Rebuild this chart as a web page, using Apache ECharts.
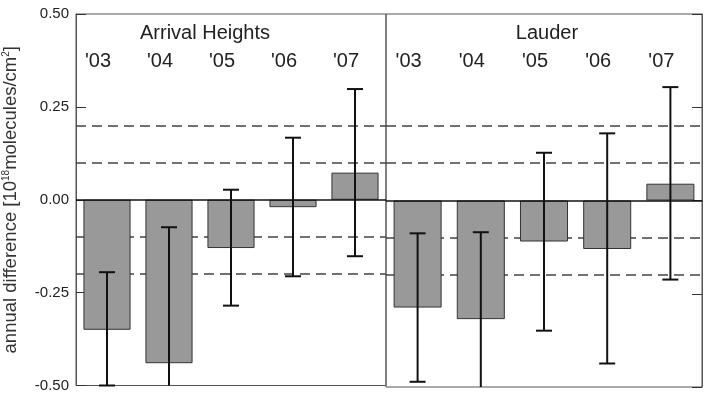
<!DOCTYPE html>
<html>
<head>
<meta charset="utf-8">
<script src="https://cdn.jsdelivr.net/npm/echarts@6/dist/echarts.min.js"></script>
<style>
  html, body { margin: 0; padding: 0; background: #fff; }
  #chart { width: 717px; height: 393px; }
</style>
</head>
<body>
<div id="chart"></div>
<script>
// years shown in each panel
const years = ["'03", "'04", "'05", "'06", "'07"]

// Arrival Heights: mean annual difference and error bar ends
const ahMean = [-0.35, -0.44, -0.13, -0.02, 0.073]
const ahHigh = [-0.195, -0.074, 0.027, 0.167, 0.298]
const ahLow = [-0.50, -0.81, -0.285, -0.206, -0.152]

// Lauder
const laMean = [-0.287, -0.318, -0.11, -0.13, 0.045]
const laHigh = [-0.088, -0.085, 0.128, 0.18, 0.304]
const laLow = [-0.486, -0.551, -0.349, -0.437, -0.212]

// y range, tick step and dashed reference levels
const yMin = -0.5
const yMax = 0.5
const yStep = 0.25
const refLines = [0.2, 0.1, -0.1, -0.2]

const font = '"Liberation Sans", Arial, Helvetica, sans-serif'

// error bar with caps, clipped to the y range
const errorBar = (params, api) => {
  const x = api.value(0)
  const lo = api.value(1)
  const hi = api.value(2)
  const top = api.coord([x, Math.min(hi, yMax)])
  const bot = api.coord([x, Math.max(lo, yMin)])
  const half = 8
  const style = { stroke: '#111', lineWidth: 2 }
  const children = [
    { type: 'line', shape: { x1: top[0], y1: top[1], x2: bot[0], y2: bot[1] }, style }
  ]
  if (hi <= yMax) {
    children.push({ type: 'line', shape: { x1: top[0] - half, y1: top[1], x2: top[0] + half, y2: top[1] }, style })
  }
  if (lo >= yMin) {
    children.push({ type: 'line', shape: { x1: bot[0] - half, y1: bot[1], x2: bot[0] + half, y2: bot[1] }, style })
  }
  return { type: 'group', children }
}

const makeX = (gridIndex) => ({
  type: 'category',
  gridIndex,
  position: 'top',
  data: years,
  axisLine: { show: false },
  axisTick: { show: false },
  axisLabel: {
    inside: true,
    margin: 37,
    fontSize: 20,
    fontFamily: font,
    color: '#222',
    padding: [0, 18, 0, 0]
  }
})

const makeY = (gridIndex, position, showLabels) => ({
  type: 'value',
  gridIndex,
  position,
  min: yMin,
  max: yMax,
  interval: yStep,
  splitLine: { show: false },
  axisLine: { show: true, lineStyle: { color: '#555', width: 1 } },
  axisTick: { show: true, inside: true, length: 10, lineStyle: { color: '#333', width: 1 } },
  axisLabel: {
    show: showLabels,
    margin: 7,
    fontSize: 15,
    fontFamily: font,
    color: '#222',
    formatter: (v) => v.toFixed(2)
  }
})

const makeBars = (idx, values) => ({
  type: 'bar',
  xAxisIndex: idx,
  yAxisIndex: idx,
  data: values,
  barWidth: '76%',
  z: 2,
  itemStyle: { color: '#999999', borderColor: '#333', borderWidth: 1 },
  markLine: {
    silent: true,
    symbol: 'none',
    z: 1,
    label: { show: false },
    lineStyle: { color: '#444', width: 1.5, type: [10, 6] },
    data: refLines.map((v) => ({ yAxis: v }))
  }
})

const makeErrors = (idx, lo, hi) => ({
  type: 'custom',
  xAxisIndex: idx,
  yAxisIndex: idx,
  z: 4,
  renderItem: errorBar,
  encode: { x: 0, y: [1, 2] },
  data: years.map((y, i) => [i, lo[i], hi[i]]),
  markLine: {
    silent: true,
    symbol: 'none',
    z: 3,
    label: { show: false },
    lineStyle: { color: '#111', width: 1.5, type: 'solid' },
    data: [{ yAxis: 0 }]
  }
})

const chart = echarts.init(document.getElementById('chart'))

const yLeft = makeY(0, 'left', true)
yLeft.name = 'annual difference [10{sup|18}molecules/cm{sup|2}]'
yLeft.nameLocation = 'middle'
yLeft.nameRotate = 90
yLeft.nameGap = 55
yLeft.nameTextStyle = {
  fontSize: 18.5,
  fontFamily: font,
  color: '#333',
  lineHeight: 20,
  rich: {
    sup: { fontSize: 10, lineHeight: 10, verticalAlign: 'top', fontFamily: font, color: '#333' }
  }
}

const option = {
  animation: false,
  backgroundColor: '#fff',
  grid: [
    { left: 71, top: 14, width: 315, height: 373, show: true, borderColor: '#555', borderWidth: 1 },
    { left: 386, top: 14, width: 316, height: 373, show: true, borderColor: '#555', borderWidth: 1 }
  ],
  xAxis: [makeX(0), makeX(1)],
  yAxis: [yLeft, makeY(1, 'right', false)],
  graphic: [
    {
      type: 'text', x: 205, y: 33,
      style: { text: 'Arrival Heights', font: '20px ' + font, fill: '#222', textAlign: 'center', textVerticalAlign: 'middle' }
    },
    {
      type: 'text', x: 547, y: 33,
      style: { text: 'Lauder', font: '20px ' + font, fill: '#222', textAlign: 'center', textVerticalAlign: 'middle' }
    }
  ],
  series: [
    makeBars(0, ahMean),
    makeBars(1, laMean),
    makeErrors(0, ahLow, ahHigh),
    makeErrors(1, laLow, laHigh)
  ]
}

chart.setOption(option)
window.addEventListener('resize', () => chart.resize())
</script>
</body>
</html>
